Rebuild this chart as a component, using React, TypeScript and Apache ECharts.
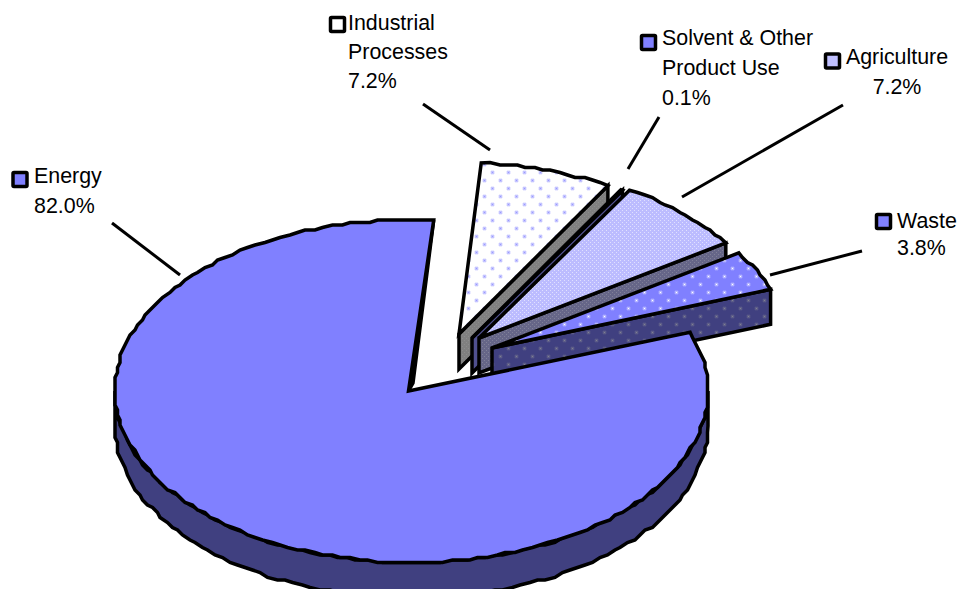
import React, { useEffect, useRef } from "react";
import * as echarts from "echarts";

const categories = ["Industrial\nProcesses", "Solvent & Other\nProduct Use", "Agriculture", "Waste", "Energy"];
const shares = [7.2, 0.1, 7.2, 3.8, 82.0];

// layout (not data)
const RX = 296.5;
const RY = 171.5;
const DEPTH = 35;
const FIRST_ANGLE = 4.3;
const apexes = [[459, 334], [472, 338], [479, 338], [492, 348], [408.5, 391]];
const rimCentres = [[459, 334], [472, 338], [479, 338], [492, 348], [411.5, 391]];
const labelLayout = [
  { x: 348, y: 23, key: [337.5, 24.5], align: "left", step: 29 },
  { x: 662, y: 38, key: [648.5, 42.5], align: "left", step: 30 },
  { x: 897, y: 57, key: [832.5, 61], align: "center", step: 30 },
  { x: 897, y: 221, key: [883.5, 221.5], align: "left", step: 27 },
  { x: 34, y: 176, key: [20, 179.5], align: "left", step: 30 },
];
const leaders = [
  [423, 104, 490, 150],
  [659, 117, 628, 169],
  [843, 105, 682, 197],
  [862, 251, 770, 275],
  [112, 223, 180, 275],
];

function dotTile(bg: string, core: string, mid: string, halo: string) {
  const c = document.createElement("canvas");
  c.width = 16;
  c.height = 16;
  const g = c.getContext("2d")!;
  g.fillStyle = bg;
  g.fillRect(0, 0, 16, 16);
  for (const [x, y] of [[4, 4], [12, 12]]) {
    g.fillStyle = halo;
    g.fillRect(x - 2, y - 1, 5, 3);
    g.fillRect(x - 1, y - 2, 3, 5);
    g.fillStyle = mid;
    g.fillRect(x - 1, y - 1, 3, 3);
    g.fillStyle = core;
    g.fillRect(x, y, 1, 1);
  }
  return { image: c, repeat: "repeat" };
}

function fineTile(bg: string, light: string) {
  const c = document.createElement("canvas");
  c.width = 4;
  c.height = 4;
  const g = c.getContext("2d")!;
  g.fillStyle = bg;
  g.fillRect(0, 0, 4, 4);
  g.fillStyle = light;
  g.fillRect(0, 0, 1, 1);
  g.fillRect(2, 2, 1, 1);
  return { image: c, repeat: "repeat" };
}

// Rim point of the elliptical pie, angle in degrees clockwise from north, snapped like the jagged original.
function rim(centre: number[], deg: number, dy = 0) {
  const t = (deg * Math.PI) / 180;
  return [centre[0] + RX * Math.sin(t), centre[1] - RY * Math.cos(t) + dy];
}
const GRID = 2.5;
const snap = (p: number[]) => [Math.round(p[0] / GRID) * GRID, Math.round(p[1] / GRID) * GRID];

function arc(centre: number[], a0: number, a1: number, dy = 0) {
  const pts: number[][] = [];
  const n = Math.max(1, Math.ceil(Math.abs(a1 - a0) / 1.8));
  for (let i = 0; i <= n; i++) {
    const p = rim(centre, a0 + ((a1 - a0) * i) / n, dy);
    pts.push(i === 0 || i === n ? p : snap(p));
  }
  return pts;
}

export default function App() {
  const ref = useRef<HTMLDivElement>(null);
  useEffect(() => {
    document.body.style.margin = "0";
    document.body.style.overflow = "hidden";
    const chart = echarts.init(ref.current!, undefined, { renderer: "svg" });
    const total = shares.reduce((a, b) => a + b, 0);
    const starts: number[] = [];
    let acc = FIRST_ANGLE;
    shares.forEach((v) => {
      starts.push(acc);
      acc += (v / total) * 360;
    });

    const topFills: any[] = [
      dotTile("#ffffff", "#9a9aff", "#c4c4ff", "#ececff"),
      "#8080ff",
      fineTile("#bcbcff", "#e0e0ff"),
      dotTile("#8080ff", "#ffffff", "#b4b4ff", "#9090ff"),
      "#8080ff",
    ];
    const wallFills: any[] = [
      fineTile("#808080", "#8c8c8c"),
      "#50508f",
      fineTile("#666688", "#808098"),
      dotTile("#404080", "#808090", "#5c5c88", "#484882"),
      "#404080",
    ];
    const line = { stroke: "#000000", lineWidth: 3.5, lineJoin: "miter" as const };

    const renderItem = (params: any, api: any) => {
      const i = params.dataIndex;
      const value = api.value(0);
      const a0 = starts[i];
      const a1 = a0 + (value / total) * 360;
      const apex = apexes[i];
      const centre = rimCentres[i];
      const children: any[] = [];
      const endTop = rim(centre, a1);
      // Radial cut face: a full wall on the exploded slices, a tapering sliver on the main slice.
      const cutFace =
        a1 > 360
          ? [apex, endTop, [apex[0] + 4.5, apex[1] - 8]]
          : [apex, endTop, [endTop[0], endTop[1] + DEPTH], [apex[0], apex[1] + DEPTH]];
      children.push({
        type: "polygon",
        shape: { points: cutFace },
        style: { fill: wallFills[i], ...line },
      });
      const w0 = Math.max(a0, 90);
      const w1 = Math.min(a1, 270);
      if (w1 > w0) {
        children.push({
          type: "polygon",
          shape: { points: [...arc(centre, w0, w1), ...arc(centre, w1, w0, DEPTH)] },
          style: { fill: wallFills[i], ...line },
        });
      }
      children.push({
        type: "polygon",
        shape: { points: [apex, ...arc(centre, a0, a1)] },
        style: { fill: topFills[i], ...line },
      });
      return { type: "group", children };
    };

    const textStyle = { fontFamily: "'Liberation Sans', Arial, sans-serif", fontSize: 21.4, fill: "#000000" };
    const graphics: any[] = [];
    const keyFills = ["#ffffff", "#8080ff", "#c0c0ff", "#8080ff", "#8080ff"];
    categories.forEach((name, i) => {
      const L = labelLayout[i];
      const lines = [...name.split("\n"), `${shares[i].toFixed(1)}%`];
      graphics.push({
        type: "rect",
        shape: { x: L.key[0] - 7, y: L.key[1] - 7, width: 14, height: 14, r: 1 },
        style: { fill: keyFills[i], stroke: "#000000", lineWidth: 3.5 },
        z: 5,
      });
      lines.forEach((t, k) => {
        graphics.push({
          type: "text",
          x: L.x,
          y: L.y + k * L.step,
          style: { text: t, align: L.align, verticalAlign: "middle", ...textStyle },
          z: 5,
        });
      });
      const s = leaders[i];
      graphics.push({
        type: "line",
        shape: { x1: s[0], y1: s[1], x2: s[2], y2: s[3] },
        style: { stroke: "#000000", lineWidth: 3 },
        z: 5,
      });
    });

    chart.setOption({
      animation: false,
      backgroundColor: "#ffffff",
      graphic: graphics,
      series: [
        {
          type: "custom",
          coordinateSystem: "none",
          renderItem,
          data: shares.map((v, i) => ({ name: categories[i], value: [v] })),
          silent: true,
        },
      ],
    });
    return () => chart.dispose();
  }, []);
  return <div ref={ref} style={{ width: 959, height: 589 }} />;
}
